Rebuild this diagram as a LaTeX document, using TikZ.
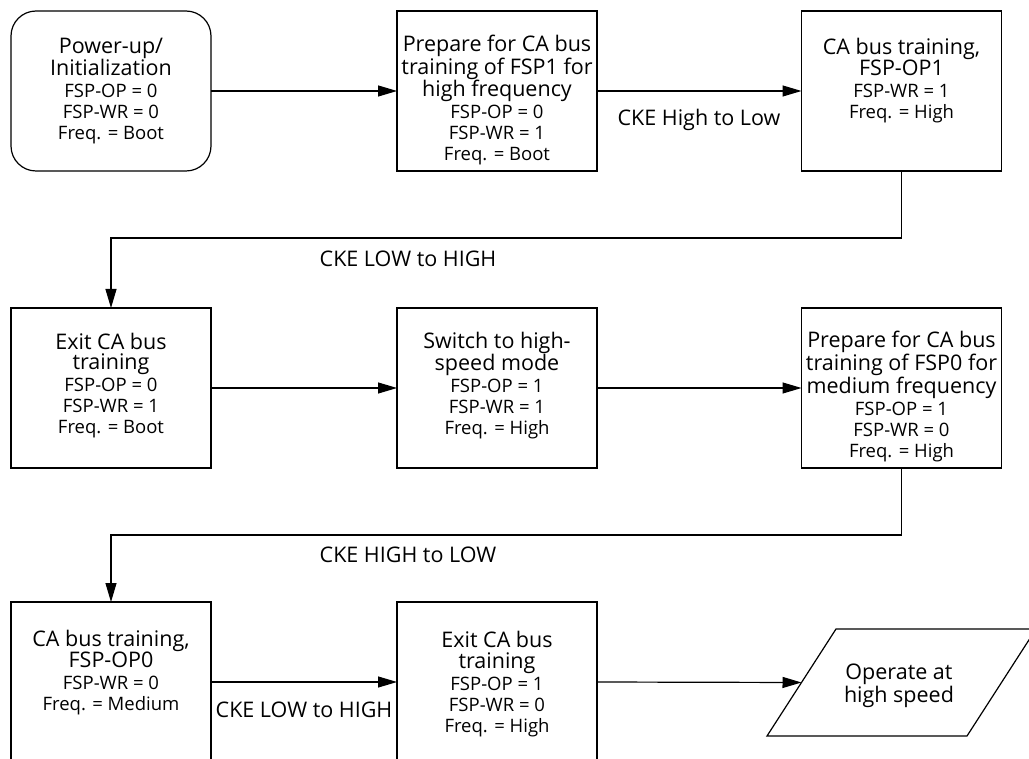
\documentclass[tikz,border=0pt]{standalone}
\usepackage{fontspec}
\setmainfont{Open Sans}
\usetikzlibrary{arrows.meta}
\newcommand\ttlfont{\fontsize{21.5}{21}\selectfont}
\tikzset{
  box/.style={draw, line width=1.2pt, minimum width=200pt, minimum height=160pt, inner sep=0pt, outer sep=0pt},
  rbox/.style={box, rounded corners=25pt},
  txt/.style={align=center, anchor=base, inner sep=0pt, font=\fontsize{18.5}{21}\selectfont},
  lab/.style={anchor=base, inner sep=0pt, font=\ttlfont},
  arr/.style={line width=1.2pt, -{Triangle[length=19pt,width=11pt]}}
}
\begin{document}
\begin{tikzpicture}[x=1pt,y=-1pt]
\useasboundingbox (0,0) rectangle (1029,759);
% row 1
\node[rbox] (b1) at (111,91) {};
\node[box] (b2) at (497,91) {};
\node[box] (b3) at (901.5,91) {};
\node[txt] (t1) at (111,140) {{\ttlfont Power-up/}\\{\ttlfont Initialization}\\[1pt]FSP-OP = 0\\FSP-WR = 0\\Freq. = Boot};
\node[txt] (t2) at (497,161) {{\ttlfont Prepare for CA bus}\\{\ttlfont training of FSP1 for}\\{\ttlfont high frequency}\\[1pt]FSP-OP = 0\\FSP-WR = 1\\Freq. = Boot};
\node[txt] (t3) at (901.5,119) {{\ttlfont CA bus training,}\\{\ttlfont FSP-OP1}\\[1pt]FSP-WR = 1\\Freq. = High};
% row 2
\node[box] (b4) at (111,388) {};
\node[box] (b5) at (497,388) {};
\node[box] (b6) at (901.5,388) {};
\node[txt] (t4) at (111,434) {{\ttlfont Exit CA bus}\\{\ttlfont training}\\[1pt]FSP-OP = 0\\FSP-WR = 1\\Freq. = Boot};
\node[txt] (t5) at (497,435) {{\ttlfont Switch to high-}\\{\ttlfont speed mode}\\[1pt]FSP-OP = 1\\FSP-WR = 1\\Freq. = High};
\node[txt] (t6) at (901.5,457) {{\ttlfont Prepare for CA bus}\\{\ttlfont training of FSP0 for}\\{\ttlfont medium frequency}\\[1pt]FSP-OP = 1\\FSP-WR = 0\\Freq. = High};
% row 3
\node[box] (b7) at (111,682) {};
\node[box] (b8) at (497,682) {};
\node[txt] (t7) at (111,710) {{\ttlfont CA bus training,}\\{\ttlfont FSP-OP0}\\[1pt]FSP-WR = 0\\Freq. = Medium};
\node[txt] (t8) at (497,732) {{\ttlfont Exit CA bus}\\{\ttlfont training}\\[1pt]FSP-OP = 1\\FSP-WR = 0\\Freq. = High};
% parallelogram
\draw[line width=1.2pt] (767,736) -- (836,629) -- (1036,629) -- (967,736) -- cycle;
\node[txt, font=\ttlfont] (op) at (899,702) {Operate at\\high speed};
\coordinate (opw) at (801.5,682.5);
% connectors
\draw[arr] (b1.east) -- (b2.west);
\draw[arr] (b2.east) -- (b3.west);
\draw[arr] (b3.south) -- ++(0,67) -| (b4.north);
\draw[arr] (b4.east) -- (b5.west);
\draw[arr] (b5.east) -- (b6.west);
\draw[arr] (b6.south) -- ++(0,67) -| (b7.north);
\draw[arr] (b7.east) -- (b8.west);
\draw[arr] (b8.east) -- (opw);
% labels
\node[lab] (l1) at (699,126) {CKE High to Low};
\node[lab] (l2) at (408,267) {CKE LOW to HIGH};
\node[lab] (l3) at (408,562) {CKE HIGH to LOW};
\node[lab] (l4) at (304,717) {CKE LOW to HIGH};
\end{tikzpicture}
\end{document}
